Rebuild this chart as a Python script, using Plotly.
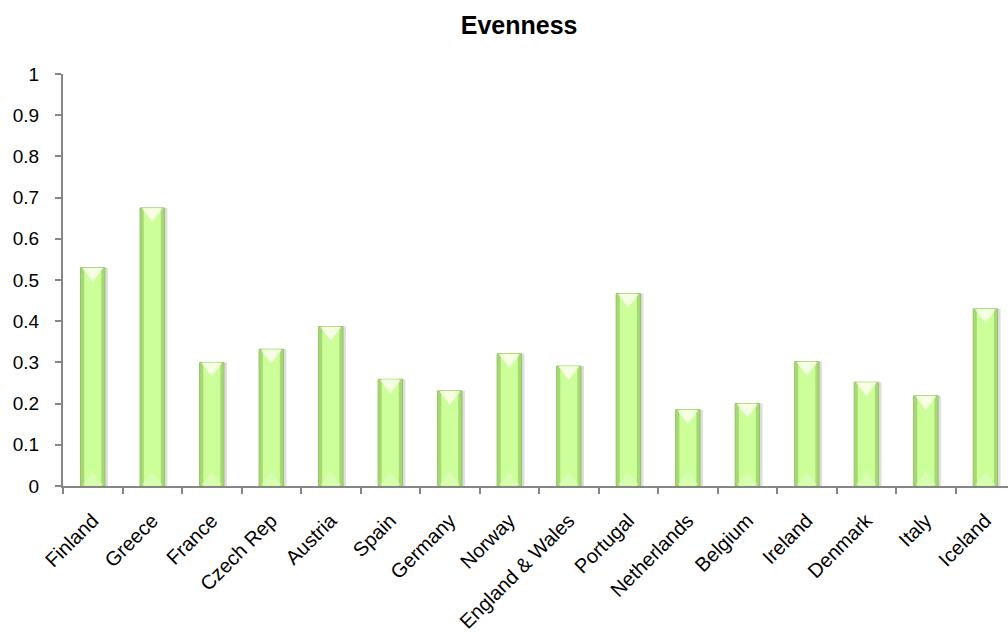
import plotly.graph_objects as go

countries = ["Finland", "Greece", "France", "Czech Rep", "Austria", "Spain",
             "Germany", "Norway", "England & Wales", "Portugal", "Netherlands",
             "Belgium", "Ireland", "Denmark", "Italy", "Iceland"]
evenness = [0.53, 0.675, 0.30, 0.332, 0.387, 0.259, 0.231, 0.321, 0.291,
            0.467, 0.185, 0.200, 0.302, 0.252, 0.219, 0.430]
y_ticks = [0, 0.1, 0.2, 0.3, 0.4, 0.5, 0.6, 0.7, 0.8, 0.9, 1]
y_tick_text = ["0", "0.1", "0.2", "0.3", "0.4", "0.5", "0.6", "0.7", "0.8", "0.9", "1"]

FONT = "Liberation Sans, Arial, sans-serif"
BAR_W = 0.41
TRI = 18  # highlight triangle marker size (px)
PX_PER_UNIT = 412.0  # plot height in px for the 0..1 range

fig = go.Figure()

# soft drop shadow to the right of each bar
fig.add_trace(go.Bar(
    x=countries, y=evenness, width=BAR_W, offset=-BAR_W / 2 + 0.05,
    marker=dict(color="rgba(90,90,90,0.20)", line=dict(width=0)),
    hoverinfo="skip", showlegend=False,
))
# darker bevelled rim
fig.add_trace(go.Bar(
    x=countries, y=evenness, width=BAR_W,
    marker=dict(color="#a6d873", line=dict(color="#93c463", width=1)),
    showlegend=False,
))
# bright inner face
fig.add_trace(go.Bar(
    x=countries, y=evenness, width=BAR_W * 0.7,
    marker=dict(color="#ccff99", line=dict(width=0)),
    hoverinfo="skip", showlegend=False,
))
# pale bevel at the foot of each bar
fig.add_trace(go.Scatter(
    x=countries, y=[0.25 * TRI / PX_PER_UNIT + 0.002] * len(countries), mode="markers",
    marker=dict(symbol="triangle-up", size=TRI, color="rgba(220,255,185,0.8)",
                line=dict(width=0)),
    hoverinfo="skip", showlegend=False, cliponaxis=True,
))
# pale highlight at the top of each bar
fig.add_trace(go.Scatter(
    x=countries, y=[v - 0.25 * TRI / PX_PER_UNIT - 0.001 for v in evenness],
    mode="markers",
    marker=dict(symbol="triangle-down", size=TRI, color="#f7ffe2",
                line=dict(width=0)),
    hoverinfo="skip", showlegend=False,
))

fig.update_layout(
    width=1008, height=637,
    barmode="overlay",
    plot_bgcolor="white", paper_bgcolor="white",
    margin=dict(l=63, r=0, t=74, b=151),
    font=dict(family=FONT, size=19, color="#000000"),
    title=dict(text="<b>Evenness</b>", x=0.515, xref="container", xanchor="center",
               y=0.96, yref="container", yanchor="middle",
               font=dict(family=FONT, size=25, color="#000000")),
    xaxis=dict(
        range=[-0.5, 15.38], showgrid=False, zeroline=False,
        showline=True, linecolor="#868686", linewidth=2,
        ticks="outside", ticklen=6, tickcolor="#868686", tickwidth=1.5,
        tickson="boundaries", tickangle=-45, ticklabelstandoff=13,
        tickfont=dict(family=FONT, size=20, color="#000000"),
    ),
    yaxis=dict(
        range=[0, 1], tickvals=y_ticks, ticktext=y_tick_text,
        showgrid=False, zeroline=False,
        showline=True, linecolor="#868686", linewidth=2,
        ticks="outside", ticklen=6, tickcolor="#868686", tickwidth=1.5,
        ticklabelstandoff=12,
        tickfont=dict(family=FONT, size=19, color="#000000"),
    ),
)

fig.write_html("out.html")
